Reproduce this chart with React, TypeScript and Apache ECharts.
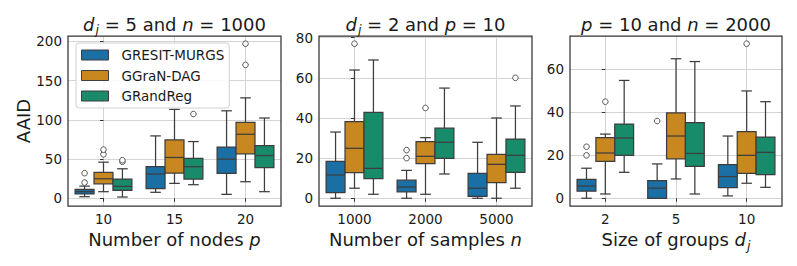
import React, { useEffect, useRef } from "react";
import * as echarts from "echarts";

// ---------- data ----------
const hues = ["GRESIT-MURGS", "GGraN-DAG", "GRandReg"];

const catsNodes = ["10", "15", "20"];
const catsSamples = ["1000", "2000", "5000"];
const catsGroups = ["2", "5", "10"];

// box stats per category: [whiskerLow, q1, median, q3, whiskerHigh]
const nodesGresit = [[2, 5.5, 8.5, 11.2, 15.5], [7.6, 12.3, 30.9, 40.2, 79.5], [5, 31.7, 49.9, 65.3, 111.5]];
const nodesGgran = [[8.4, 18.5, 24.9, 33, 46], [19, 32.1, 52, 74.4, 113.3], [21.1, 56.7, 81.6, 96.8, 128]];
const nodesGrand = [[1.6, 10, 15.2, 24.5, 37.6], [17.3, 24.5, 40.2, 50.7, 72.3], [8.4, 39.2, 54.5, 67.1, 102.3]];
// outliers: [categoryIndex, value]
const nodesGresitOut = [[0, 20], [0, 32]];
const nodesGgranOut = [[0, 56], [0, 62], [2, 170], [2, 197]];
const nodesGrandOut = [[0, 46.5], [0, 48.5], [1, 107.4]];

const samplesGresit = [[0, 2.8, 11.6, 18.4, 33], [0, 3.2, 5.6, 9, 13.9], [0, 1, 5, 12.4, 27.9]];
const samplesGgran = [[5, 12.8, 24.9, 38.2, 63.9], [2, 17.3, 20.9, 28.2, 30.2], [0, 7.8, 16.9, 21.9, 40]];
const samplesGrand = [[2, 9.8, 14.9, 42.8, 68.9], [12.1, 19.9, 27.9, 34.9, 54.9], [5, 12.9, 21.4, 29.5, 46]];
const samplesGresitOut = [[1, 20], [1, 24]];
const samplesGgranOut = [[0, 77], [1, 45]];
const samplesGrandOut = [[2, 60]];

const groupsGresit = [[0, 3.3, 5.7, 8.8, 14], [0, 0, 4.7, 8.2, 16], [1.1, 5, 10.1, 15.7, 29]];
const groupsGgran = [[2, 17.2, 21.1, 28.2, 29.9], [9, 18.4, 29, 39.8, 65], [7, 11.6, 20, 31, 50]];
const groupsGrand = [[12.1, 20, 28.1, 34.6, 54.9], [2, 14.9, 20.9, 35.2, 63.7], [5.1, 11, 21.4, 28.5, 45]];
const groupsGresitOut = [[0, 20], [0, 24], [1, 36]];
const groupsGgranOut = [[0, 45], [2, 72]];
const groupsGrandOut: number[][] = [];

// ---------- styling / layout ----------
const FONT = "'DejaVu Sans', sans-serif";
const TEXT = "#1a1a1a";
const EDGE = "#3d3d3d";
const GRIDLINE = "#d4d4d4";
const COLORS = ["#1a6fa5", "#c8871f", "#188b6a"];
const BIG = 18;
const SMALL = 13.5;

const panels = [
  {
    cats: catsNodes,
    boxes: [nodesGresit, nodesGgran, nodesGrand],
    outs: [nodesGresitOut, nodesGgranOut, nodesGrandOut],
    yMin: -9.85, yMax: 206.85, split: 5,
    title: "{i|d}{s|j}{t| = 5 and }{i|n}{t| = 1000}",
    xName: "{t|Number of nodes }{i|p}",
    yName: "AAID",
    grid: { left: 68, top: 36, width: 213, height: 170 },
  },
  {
    cats: catsSamples,
    boxes: [samplesGresit, samplesGgran, samplesGrand],
    outs: [samplesGresitOut, samplesGgranOut, samplesGrandOut],
    yMin: -3.85, yMax: 80.85, split: 4,
    title: "{i|d}{s|j}{t| = 2 and }{i|p}{t| = 10}",
    xName: "{t|Number of samples }{i|n}",
    yName: "",
    grid: { left: 319, top: 36, width: 213, height: 170 },
  },
  {
    cats: catsGroups,
    boxes: [groupsGresit, groupsGgran, groupsGrand],
    outs: [groupsGresitOut, groupsGgranOut, groupsGrandOut],
    yMin: -3.6, yMax: 75.6, split: 4,
    title: "{i|p}{t| = 10 and }{i|n}{t| = 2000}",
    xName: "{t|Size of groups }{i|d}{s|j}",
    yName: "",
    grid: { left: 570, top: 36, width: 212, height: 170 },
  },
];

const richMain = (size: number) => ({
  t: { fontFamily: FONT, fontSize: size, fontWeight: "normal", color: TEXT, verticalAlign: "top" },
  i: { fontFamily: FONT, fontSize: size, fontWeight: "normal", fontStyle: "italic", color: TEXT, verticalAlign: "top" },
  s: {
    fontFamily: FONT, fontSize: size * 0.7, fontWeight: "normal", fontStyle: "italic", color: TEXT,
    verticalAlign: "top", padding: [size * 0.45, 0, 0, 1],
  },
});

const boxRender = (k: number, color: string) => (params: any, api: any) => {
  const i = api.value(0);
  const v = [1, 2, 3, 4, 5].map((d) => api.value(d));
  const unit = api.size([1, 0])[0];
  const w = (unit * 0.8) / 3;
  const cx = api.coord([i, 0])[0] + (k - 1) * w;
  const y = v.map((val) => api.coord([i, val])[1]);
  const cap = w * 0.28;
  const ls = { stroke: EDGE, lineWidth: 1.25 };
  return {
    type: "group",
    children: [
      { type: "line", shape: { x1: cx, y1: y[0], x2: cx, y2: y[1] }, style: ls },
      { type: "line", shape: { x1: cx, y1: y[3], x2: cx, y2: y[4] }, style: ls },
      { type: "line", shape: { x1: cx - cap, y1: y[0], x2: cx + cap, y2: y[0] }, style: ls },
      { type: "line", shape: { x1: cx - cap, y1: y[4], x2: cx + cap, y2: y[4] }, style: ls },
      {
        type: "rect",
        shape: { x: cx - w / 2, y: y[3], width: w, height: y[1] - y[3] },
        style: { fill: color, stroke: EDGE, lineWidth: 1.25 },
      },
      { type: "line", shape: { x1: cx - w / 2, y1: y[2], x2: cx + w / 2, y2: y[2] }, style: ls },
    ],
  };
};

const outRender = (k: number) => (params: any, api: any) => {
  const i = api.value(0);
  const unit = api.size([1, 0])[0];
  const w = (unit * 0.8) / 3;
  const pt = api.coord([i, api.value(1)]);
  return {
    type: "circle",
    shape: { cx: pt[0] + (k - 1) * w, cy: pt[1], r: 2.8 },
    style: { fill: "#ffffff", stroke: "#555555", lineWidth: 1 },
  };
};

export default function App() {
  const ref = useRef<HTMLDivElement>(null);
  useEffect(() => {
    if (!ref.current) return;
    const chart = echarts.init(ref.current, null, { renderer: "svg" });

    const grid: any[] = [];
    const xAxis: any[] = [];
    const yAxis: any[] = [];
    const series: any[] = [];
    const title: any[] = [];
    const graphic: any[] = [];

    panels.forEach((p, pi) => {
      grid.push({ ...p.grid, show: false, containLabel: false });
      xAxis.push({
        type: "value",
        gridIndex: pi,
        min: -0.5,
        max: 2.5,
        splitNumber: 3,
        axisLine: { show: false },
        axisTick: { show: true, length: 3.5, lineStyle: { color: "#333", width: 1 } },
        axisLabel: {
          fontFamily: FONT, fontSize: SMALL, color: TEXT, margin: 6,
          showMinLabel: false, showMaxLabel: false,
          formatter: (val: number) => p.cats[Math.round(val)] ?? "",
        },
        splitLine: { show: true, showMinLine: false, showMaxLine: false, lineStyle: { color: GRIDLINE, width: 1 } },
        name: p.xName,
        nameLocation: "middle",
        nameGap: 18,
        nameTextStyle: { rich: richMain(BIG) },
      });
      yAxis.push({
        type: "value",
        gridIndex: pi,
        min: p.yMin,
        max: p.yMax,
        splitNumber: p.split,
        axisLine: { show: false },
        axisTick: { show: true, length: 3.5, lineStyle: { color: "#333", width: 1 } },
        axisLabel: {
          fontFamily: FONT, fontSize: SMALL, color: TEXT, margin: 6,
          showMinLabel: false, showMaxLabel: false,
        },
        splitLine: { show: true, showMinLine: false, showMaxLine: false, lineStyle: { color: GRIDLINE, width: 1 } },
        name: p.yName,
        nameLocation: "middle",
        nameGap: 34,
        nameTextStyle: { fontFamily: FONT, fontSize: BIG, color: TEXT },
      });
      title.push({
        text: p.title,
        left: p.grid.left + p.grid.width / 2,
        top: 15,
        textAlign: "center",
        padding: 0,
        textStyle: { fontWeight: "normal", rich: richMain(BIG) },
      });
      graphic.push({
        type: "rect",
        z: 100,
        silent: true,
        shape: { x: p.grid.left, y: p.grid.top, width: p.grid.width, height: p.grid.height },
        style: { fill: "none", stroke: "#333333", lineWidth: 1.25 },
      });
      for (let k = 0; k < 3; k++) {
        series.push({
          type: "custom",
          name: hues[k],
          xAxisIndex: pi,
          yAxisIndex: pi,
          data: p.boxes[k].map((b, i) => [i, ...b]),
          encode: { x: 0, y: [1, 2, 3, 4, 5] },
          renderItem: boxRender(k, COLORS[k]),
          itemStyle: { color: COLORS[k] },
          z: 3,
        });
        series.push({
          type: "custom",
          name: hues[k] + " outliers",
          xAxisIndex: pi,
          yAxisIndex: pi,
          data: p.outs[k],
          encode: { x: 0, y: 1 },
          renderItem: outRender(k),
          z: 4,
        });
      }
    });

    chart.setOption({
      animation: false,
      backgroundColor: "#ffffff",
      textStyle: { fontFamily: FONT },
      title,
      grid,
      xAxis,
      yAxis,
      series,
      graphic,
      legend: {
        data: hues,
        orient: "vertical",
        left: 76,
        top: 43,
        padding: [4, 5, 4, 5],
        itemWidth: 27,
        itemHeight: 10,
        itemGap: 4.5,
        icon: "rect",
        selectedMode: false,
        backgroundColor: "rgba(255,255,255,0.85)",
        borderColor: "#d0d0d0",
        borderWidth: 1,
        borderRadius: 3,
        itemStyle: { borderColor: EDGE, borderWidth: 1 },
        textStyle: { fontFamily: FONT, fontSize: SMALL, color: TEXT, lineHeight: 16, padding: [0, 0, 0, 8] },
        z: 50,
      },
    });
    return () => chart.dispose();
  }, []);
  return (
    <div
      ref={ref}
      style={{ position: "fixed", left: 0, top: 0, width: 797, height: 266, background: "#fff" }}
    />
  );
}
